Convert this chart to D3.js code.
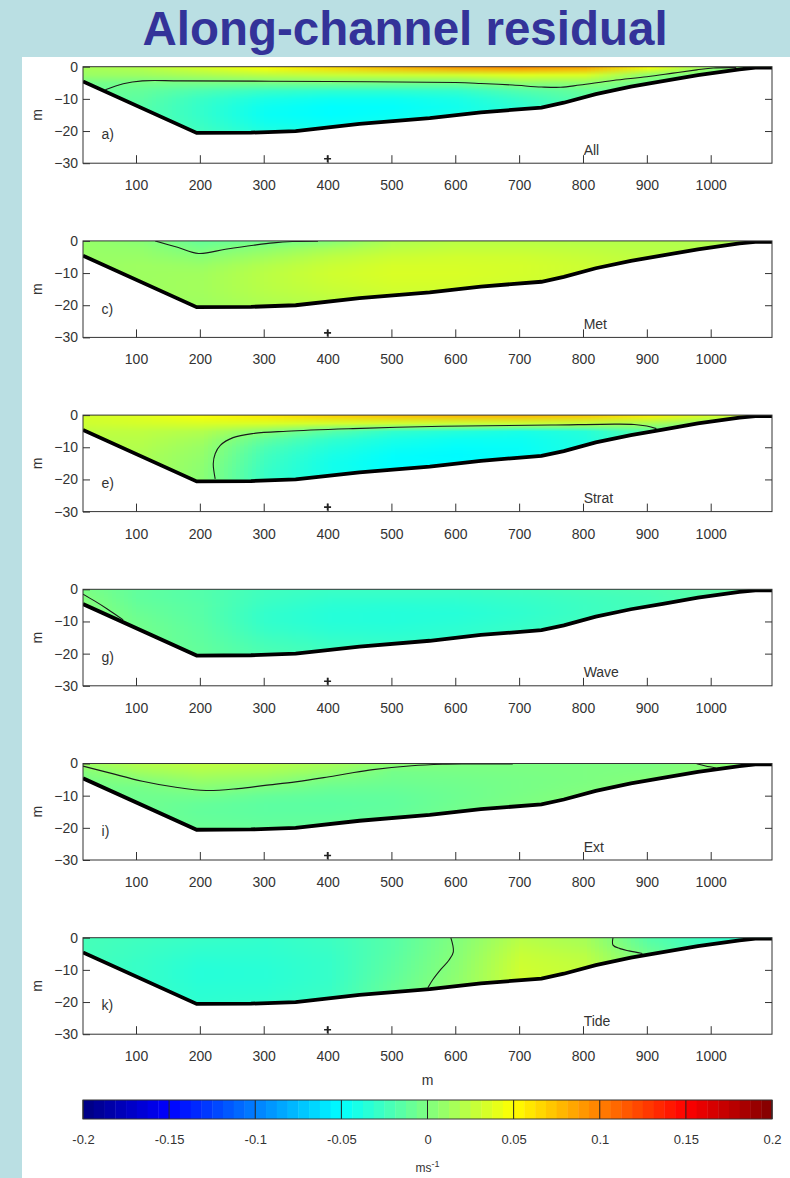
<!DOCTYPE html>
<html>
<head>
<meta charset="utf-8">
<script src="https://cdn.jsdelivr.net/npm/d3@7"></script>
<style>
  body { margin: 0; background: #badfe3; }
  svg { display: block; }
  text { font-family: "Liberation Sans", Arial, sans-serif; }
</style>
</head>
<body>
<svg id="chart" width="790" height="1178"></svg>
<script>
// grid of the residual field: along-channel distance (m) and depth (m)
const xNodes = [0, 100, 200, 300, 400, 500, 600, 700, 800, 900, 1000, 1100];
const zNodes = [0, -2.5, -5, -7.5, -10, -12.5, -15, -17.5, -20];

// channel bottom
const bathyX = [17, 195, 280, 350, 450, 560, 640, 735, 770, 820, 875, 925, 980, 1045, 1070, 1096];
const bathyZ = [-4.6, -20.6, -20.5, -20.0, -17.8, -16.0, -14.2, -12.7, -11.2, -8.5, -6.2, -4.5, -2.6, -0.8, -0.3, -0.3];

const xTicks = [100, 200, 300, 400, 500, 600, 700, 800, 900, 1000];
const yTicks = [0, -10, -20, -30];
const cbTicks = [-0.2, -0.15, -0.1, -0.05, 0, 0.05, 0.1, 0.15, 0.2];

const panelLetters = ["a)", "c)", "e)", "g)", "i)", "k)"];
const panelNames = ["All", "Met", "Strat", "Wave", "Ext", "Tide"];

// velocity (m/s), one row per depth in zNodes, one column per xNodes
const fieldAll = [
  [0.015, 0.02, 0.035, 0.05, 0.065, 0.08, 0.092, 0.097, 0.087, 0.05, 0.008, 0.0],
  [0.01, 0.012, 0.018, 0.024, 0.028, 0.03, 0.032, 0.038, 0.036, 0.006, -0.005, -0.01],
  [-0.004, -0.004, -0.003, -0.003, -0.003, -0.004, -0.005, 0.006, 0.006, -0.006, -0.01, -0.01],
  [-0.008, -0.01, -0.02, -0.028, -0.032, -0.032, -0.03, -0.018, -0.01, -0.008, -0.01, -0.01],
  [-0.01, -0.013, -0.028, -0.04, -0.045, -0.045, -0.04, -0.028, -0.015, -0.01, -0.01, -0.01],
  [-0.01, -0.015, -0.03, -0.045, -0.05, -0.049, -0.043, -0.032, -0.015, -0.01, -0.01, -0.01],
  [-0.01, -0.015, -0.03, -0.046, -0.05, -0.047, -0.04, -0.032, -0.015, -0.01, -0.01, -0.01],
  [-0.01, -0.015, -0.028, -0.043, -0.046, -0.043, -0.038, -0.032, -0.015, -0.01, -0.01, -0.01],
  [-0.01, -0.015, -0.025, -0.038, -0.04, -0.04, -0.038, -0.032, -0.015, -0.01, -0.01, -0.01]
];
const fieldMet = [
  [0.01, 0.004, -0.01, -0.006, 0.002, 0.018, 0.022, 0.022, 0.02, 0.02, 0.018, 0.015],
  [0.01, 0.008, -0.003, 0.006, 0.016, 0.024, 0.027, 0.027, 0.025, 0.022, 0.02, 0.017],
  [0.01, 0.01, 0.004, 0.014, 0.024, 0.03, 0.032, 0.031, 0.028, 0.024, 0.02, 0.018],
  [0.01, 0.012, 0.01, 0.02, 0.029, 0.034, 0.034, 0.033, 0.03, 0.025, 0.02, 0.018],
  [0.01, 0.012, 0.013, 0.023, 0.031, 0.035, 0.035, 0.033, 0.03, 0.025, 0.02, 0.018],
  [0.01, 0.012, 0.014, 0.023, 0.03, 0.034, 0.034, 0.032, 0.03, 0.025, 0.02, 0.018],
  [0.01, 0.012, 0.014, 0.022, 0.028, 0.032, 0.032, 0.03, 0.03, 0.025, 0.02, 0.018],
  [0.01, 0.012, 0.013, 0.02, 0.025, 0.029, 0.03, 0.03, 0.03, 0.025, 0.02, 0.018],
  [0.01, 0.012, 0.012, 0.018, 0.022, 0.026, 0.028, 0.028, 0.028, 0.025, 0.02, 0.018]
];
const fieldStrat = [
  [0.032, 0.038, 0.048, 0.058, 0.068, 0.074, 0.078, 0.078, 0.072, 0.056, 0.035, 0.025],
  [0.03, 0.033, 0.035, 0.035, 0.032, 0.03, 0.028, 0.028, 0.025, 0.015, 0.005, 0.0],
  [0.025, 0.025, 0.02, 0.004, -0.015, -0.03, -0.035, -0.04, -0.035, -0.015, -0.005, -0.005],
  [0.022, 0.022, 0.014, -0.012, -0.03, -0.04, -0.045, -0.045, -0.038, -0.02, -0.01, -0.01],
  [0.02, 0.02, 0.01, -0.02, -0.036, -0.045, -0.049, -0.047, -0.038, -0.022, -0.01, -0.01],
  [0.02, 0.018, 0.008, -0.024, -0.04, -0.049, -0.051, -0.047, -0.038, -0.022, -0.01, -0.01],
  [0.02, 0.018, 0.006, -0.026, -0.042, -0.05, -0.05, -0.046, -0.038, -0.022, -0.01, -0.01],
  [0.02, 0.018, 0.005, -0.028, -0.042, -0.048, -0.048, -0.045, -0.035, -0.02, -0.01, -0.01],
  [0.02, 0.018, 0.004, -0.028, -0.04, -0.045, -0.045, -0.045, -0.035, -0.02, -0.01, -0.01]
];
const fieldWave = [
  [0.0, -0.012, -0.017, -0.025, -0.027, -0.027, -0.027, -0.025, -0.022, -0.02, -0.016, -0.008],
  [0.003, -0.012, -0.017, -0.026, -0.03, -0.03, -0.03, -0.028, -0.025, -0.022, -0.016, -0.008],
  [0.005, -0.01, -0.016, -0.028, -0.033, -0.034, -0.033, -0.03, -0.026, -0.022, -0.016, -0.008],
  [0.006, -0.008, -0.016, -0.03, -0.035, -0.036, -0.035, -0.031, -0.026, -0.022, -0.016, -0.008],
  [0.006, -0.006, -0.015, -0.03, -0.035, -0.036, -0.034, -0.03, -0.025, -0.022, -0.016, -0.008],
  [0.006, -0.005, -0.014, -0.028, -0.033, -0.034, -0.032, -0.028, -0.025, -0.022, -0.016, -0.008],
  [0.006, -0.005, -0.013, -0.025, -0.03, -0.031, -0.03, -0.028, -0.025, -0.022, -0.016, -0.008],
  [0.006, -0.005, -0.012, -0.022, -0.027, -0.028, -0.028, -0.028, -0.025, -0.022, -0.016, -0.008],
  [0.006, -0.005, -0.011, -0.02, -0.025, -0.026, -0.026, -0.028, -0.025, -0.022, -0.016, -0.008]
];
const fieldExt = [
  [0.01, 0.02, 0.025, 0.022, 0.015, 0.006, 0.0, -0.001, -0.001, -0.001, 0.004, 0.004],
  [0.0, 0.012, 0.018, 0.015, 0.008, -0.004, -0.003, -0.002, -0.001, 0.0, 0.004, 0.004],
  [-0.003, 0.002, 0.01, 0.007, -0.002, -0.006, -0.005, -0.003, -0.001, 0.002, 0.004, 0.004],
  [-0.004, -0.004, 0.003, -0.002, -0.008, -0.009, -0.006, -0.003, 0.0, 0.003, 0.004, 0.004],
  [-0.005, -0.006, -0.005, -0.01, -0.012, -0.011, -0.007, -0.002, 0.002, 0.003, 0.004, 0.004],
  [-0.005, -0.006, -0.01, -0.013, -0.014, -0.012, -0.006, -0.001, 0.002, 0.003, 0.004, 0.004],
  [-0.005, -0.006, -0.011, -0.013, -0.013, -0.011, -0.005, 0.0, 0.002, 0.003, 0.004, 0.004],
  [-0.005, -0.006, -0.01, -0.012, -0.011, -0.009, -0.004, 0.0, 0.002, 0.003, 0.004, 0.004],
  [-0.005, -0.006, -0.008, -0.01, -0.01, -0.008, -0.004, 0.0, 0.002, 0.003, 0.004, 0.004]
];
const fieldTide = [
  [-0.022, -0.025, -0.028, -0.03, -0.026, -0.016, 0.001, 0.022, 0.015, -0.017, -0.028, -0.035],
  [-0.022, -0.026, -0.03, -0.031, -0.027, -0.016, 0.002, 0.025, 0.018, -0.012, -0.028, -0.035],
  [-0.022, -0.027, -0.032, -0.032, -0.028, -0.015, 0.003, 0.028, 0.022, -0.006, -0.028, -0.035],
  [-0.022, -0.028, -0.034, -0.033, -0.029, -0.014, 0.004, 0.03, 0.025, -0.003, -0.028, -0.035],
  [-0.022, -0.028, -0.035, -0.034, -0.029, -0.013, 0.005, 0.031, 0.026, -0.003, -0.028, -0.035],
  [-0.022, -0.028, -0.035, -0.034, -0.029, -0.012, 0.006, 0.031, 0.026, -0.003, -0.028, -0.035],
  [-0.022, -0.028, -0.034, -0.033, -0.028, -0.01, 0.006, 0.03, 0.026, -0.003, -0.028, -0.035],
  [-0.022, -0.028, -0.033, -0.032, -0.027, -0.01, 0.006, 0.03, 0.026, -0.003, -0.028, -0.035],
  [-0.022, -0.028, -0.032, -0.03, -0.026, -0.01, 0.006, 0.03, 0.026, -0.003, -0.028, -0.035]
];

// zero contours, [x, z] points
const contourAll = [[52, -7.2], [80, -5.3], [110, -4.4], [170, -4.4], [400, -4.6], [600, -4.9], [640, -5.2], [690, -5.7], [735, -6.3], [765, -6.4], [795, -5.7], [847, -4.3], [900, -3.1], [941, -2.0], [978, -1.0], [1004, -0.4], [1040, -0.3]];
const contourMet = [[130, 0], [165, -2], [198, -3.9], [240, -2.6], [284, -1.35], [315, -0.6], [345, -0.2], [385, -0.1]];
const contourStrat = [[224, -19.8], [221, -15.1], [224, -12], [232, -9.4], [252, -7], [284, -5.7], [336, -5.0], [440, -4.2], [545, -3.6], [650, -3.3], [750, -3.1], [850, -2.8], [880, -2.9], [900, -3.4], [915, -4.2]];
const contourWave = [[17, -1.5], [35, -3.6], [55, -6.1], [80, -9.5]];
const contourExt = [[17, -0.8], [60, -3], [110, -5.5], [160, -7.3], [210, -8.4], [260, -7.8], [302, -6.8], [350, -5.7], [394, -4.4], [430, -3.2], [471, -1.9], [532, -0.7], [580, -0.25], [615, -0.15], [690, -0.15]];
const contourExt2 = [[978, -0.1], [992, -0.8], [1008, -1.4]];
const contourTide = [[593, 0], [597, -4.4], [590, -7], [578, -9.7], [565, -13], [557, -15.6]];
const contourTide2 = [[847, 0], [847, -2.3], [858, -3.4], [872, -4.1], [893, -4.9]];

const panels = [
  { field: fieldAll, contours: [contourAll] },
  { field: fieldMet, contours: [contourMet] },
  { field: fieldStrat, contours: [contourStrat] },
  { field: fieldWave, contours: [contourWave] },
  { field: fieldExt, contours: [contourExt, contourExt2] },
  { field: fieldTide, contours: [contourTide, contourTide2] }
];

const svg = d3.select("#chart");

svg.append("rect")
    .attr("x", 22).attr("y", 57)
    .attr("width", 768).attr("height", 1121)
    .attr("fill", "#fff");

svg.append("text")
    .attr("x", 405).attr("y", 45)
    .attr("text-anchor", "middle")
    .attr("font-size", 47.5)
    .attr("font-weight", "bold")
    .attr("fill", "#333399")
    .text("Along-channel residual");

const x = d3.scaleLinear().domain([17, 1096]).range([83, 772]);

// jet colour map
const jet = d3.scaleLinear()
    .domain([-0.2, -0.15, -0.05, 0.05, 0.15, 0.2])
    .range(["#000080", "#0000ff", "#00ffff", "#ffff00", "#ff0000", "#800000"])
    .clamp(true);

// one pixel per grid node, the browser smooths it when scaled up
function fieldImage(rows) {
    const cv = document.createElement("canvas");
    cv.width = xNodes.length;
    cv.height = zNodes.length;
    const ctx = cv.getContext("2d");
    rows.forEach((row, j) => row.forEach((v, i) => {
        ctx.fillStyle = jet(v);
        ctx.fillRect(i, j, 1, 1);
    }));
    return cv.toDataURL();
}

const panelTop = 66.7, panelStep = 174.2, panelH = 96.5;
const bottomPts = bathyX.map((v, k) => [v, bathyZ[k]]);
const halfX = (xNodes[1] - xNodes[0]) / 2;
const halfZ = (zNodes[0] - zNodes[1]) / 2;

panels.forEach((p, i) => {
    const top = panelTop + i * panelStep;
    const y = d3.scaleLinear().domain([-30, 0]).range([top + panelH, top]);
    const line = d3.line().x(d => x(d[0])).y(d => y(d[1]));
    const g = svg.append("g");

    const waterPts = [[17, 0], [1096, 0]].concat(bottomPts.slice().reverse());
    g.append("clipPath").attr("id", "water" + i)
        .append("path").attr("d", line(waterPts) + "Z");
    g.append("clipPath").attr("id", "box" + i)
        .append("rect")
        .attr("x", x(17)).attr("y", y(0))
        .attr("width", x(1096) - x(17)).attr("height", y(-30) - y(0));

    g.append("image")
        .attr("href", fieldImage(p.field))
        .attr("x", x(xNodes[0] - halfX))
        .attr("width", x(xNodes[xNodes.length - 1] + halfX) - x(xNodes[0] - halfX))
        .attr("y", y(zNodes[0] + halfZ))
        .attr("height", y(zNodes[zNodes.length - 1] - halfZ) - y(zNodes[0] + halfZ))
        .attr("preserveAspectRatio", "none")
        .attr("clip-path", `url(#water${i})`);

    const cline = d3.line().x(d => x(d[0])).y(d => y(d[1])).curve(d3.curveCatmullRom.alpha(0.5));
    p.contours.forEach(c => {
        g.append("path")
            .attr("d", cline(c))
            .attr("fill", "none")
            .attr("stroke", "#1a1a1a")
            .attr("stroke-width", 1.1)
            .attr("clip-path", `url(#box${i})`);
    });

    g.append("path")
        .attr("d", line(bottomPts))
        .attr("fill", "none")
        .attr("stroke", "#000")
        .attr("stroke-width", 3.8)
        .attr("clip-path", `url(#box${i})`);

    // axes
    const ax = g.append("g")
        .attr("transform", `translate(0,${y(-30)})`)
        .call(d3.axisBottom(x).tickValues(xTicks).tickSize(-8).tickSizeOuter(0).tickPadding(17).tickFormat(d3.format("d")));
    const ay = g.append("g")
        .attr("transform", `translate(${x(17)},0)`)
        .call(d3.axisLeft(y).tickValues(yTicks).tickSize(-7).tickSizeOuter(0).tickPadding(5).tickFormat(d3.format("d")));
    const ar = g.append("g")
        .attr("transform", `translate(${x(1096)},0)`)
        .call(d3.axisRight(y).tickValues([-10, -20]).tickSize(-7).tickSizeOuter(0).tickFormat(""));
    [ax, ay, ar].forEach(a => {
        a.select(".domain").remove();
        a.selectAll("line").attr("stroke", "#333");
        a.selectAll("text")
            .attr("font-family", "Liberation Sans, Arial, sans-serif")
            .attr("font-size", 14)
            .attr("fill", "#333");
    });

    g.append("rect")
        .attr("x", x(17)).attr("y", y(0))
        .attr("width", x(1096) - x(17)).attr("height", y(-30) - y(0))
        .attr("fill", "none")
        .attr("stroke", "#333")
        .attr("stroke-width", 1);

    // station marker
    g.append("path")
        .attr("transform", `translate(${x(400)},${y(-28.6)})`)
        .attr("d", "M-3.5,0H3.5M0,-3.5V3.5")
        .attr("stroke", "#222")
        .attr("stroke-width", 1.6);

    g.append("text")
        .attr("x", x(46)).attr("y", y(-22.6))
        .attr("font-size", 14).attr("fill", "#333")
        .text(panelLetters[i]);

    g.append("text")
        .attr("x", x(801)).attr("y", y(-27.4))
        .attr("font-size", 14).attr("fill", "#333")
        .text(panelNames[i]);

    g.append("text")
        .attr("transform", `translate(37,${top + panelH / 2}) rotate(-90)`)
        .attr("text-anchor", "middle")
        .attr("dy", "0.35em")
        .attr("font-size", 14).attr("fill", "#333")
        .text("m");
});

svg.append("text")
    .attr("x", (x(17) + x(1096)) / 2).attr("y", 1085)
    .attr("text-anchor", "middle")
    .attr("font-size", 14).attr("fill", "#333")
    .text("m");

// colour bar
const cx = d3.scaleLinear().domain([-0.2, 0.2]).range([83, 772]);
const cbY = 1100, cbH = 19;
const nSteps = 64;
const stepW = 0.4 / nSteps;
const cb = svg.append("g");
cb.selectAll("rect")
    .data(d3.range(nSteps))
    .enter()
    .append("rect")
    .attr("x", k => cx(-0.2 + k * stepW))
    .attr("width", k => cx(-0.2 + (k + 1) * stepW) - cx(-0.2 + k * stepW) + 0.4)
    .attr("y", cbY)
    .attr("height", cbH)
    .attr("fill", k => jet(-0.2 + (k + 0.5) * stepW));
cb.selectAll("line")
    .data(cbTicks)
    .enter()
    .append("line")
    .attr("x1", d => cx(d)).attr("x2", d => cx(d))
    .attr("y1", cbY).attr("y2", cbY + cbH)
    .attr("stroke", "#222")
    .attr("stroke-width", 1);
cb.append("rect")
    .attr("x", cx(-0.2)).attr("y", cbY)
    .attr("width", cx(0.2) - cx(-0.2)).attr("height", cbH)
    .attr("fill", "none")
    .attr("stroke", "#333");

const cbAxis = svg.append("g")
    .attr("transform", `translate(0,${cbY + cbH})`)
    .call(d3.axisBottom(cx).tickValues(cbTicks).tickSize(0).tickPadding(16).tickFormat(d => String(d)));
cbAxis.select(".domain").remove();
cbAxis.selectAll("text")
    .attr("font-family", "Liberation Sans, Arial, sans-serif")
    .attr("font-size", 13)
    .attr("fill", "#333");

const unit = svg.append("text")
    .attr("x", cx(0)).attr("y", 1172)
    .attr("text-anchor", "middle")
    .attr("font-size", 12).attr("fill", "#333");
unit.append("tspan").text("ms");
unit.append("tspan").attr("dy", -5).attr("font-size", 9).text("-1");
</script>
</body>
</html>
